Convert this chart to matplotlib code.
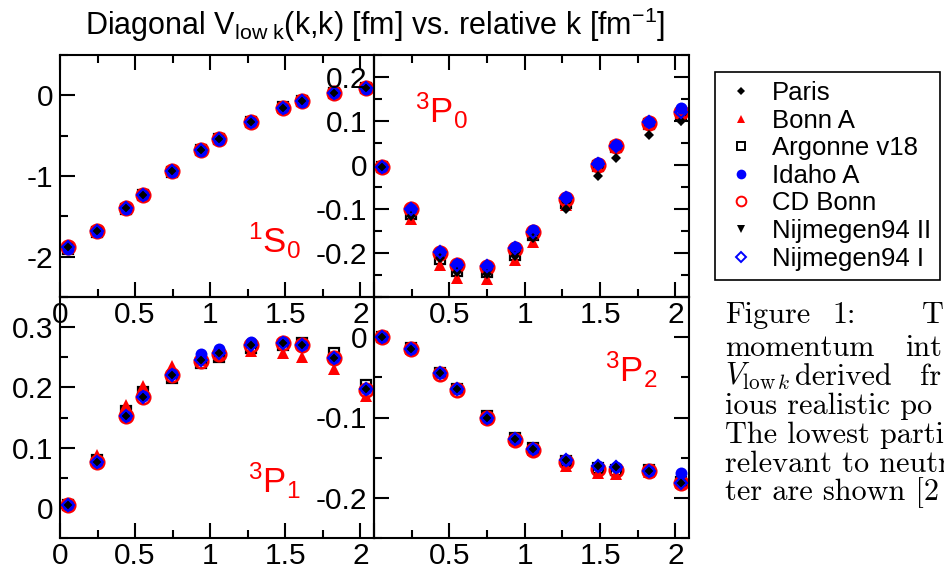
import matplotlib
matplotlib.use('Agg')
import matplotlib.pyplot as plt
from matplotlib.ticker import MultipleLocator, FuncFormatter
from matplotlib.lines import Line2D

plt.rcParams['font.family'] = ['Liberation Sans', 'DejaVu Sans']
plt.rcParams['mathtext.fontset'] = 'custom'
plt.rcParams['mathtext.rm'] = 'Liberation Sans'
plt.rcParams['mathtext.it'] = 'Liberation Sans:italic'
plt.rcParams['mathtext.bf'] = 'Liberation Sans:bold'
plt.rcParams['axes.unicode_minus'] = False

# ---------------- data ----------------
k = [0.053, 0.244, 0.437, 0.552, 0.747, 0.937, 1.055, 1.274, 1.487, 1.608, 1.822, 2.037]

series = ['Paris', 'Bonn A', 'Argonne v18', 'Idaho A', 'CD Bonn', 'Nijmegen94 II', 'Nijmegen94 I']

# 1S0
s1_paris  = [-1.875, -1.680, -1.400, -1.230, -0.940, -0.680, -0.545, -0.325, -0.155, -0.075, 0.035, 0.095]
s1_bonna  = [-1.875, -1.680, -1.400, -1.230, -0.940, -0.680, -0.545, -0.325, -0.155, -0.075, 0.035, 0.095]
s1_av18   = [-1.900, -1.690, -1.410, -1.235, -0.945, -0.680, -0.545, -0.325, -0.150, -0.070, 0.035, 0.090]
s1_idaho  = [-1.900, -1.695, -1.405, -1.235, -0.945, -0.685, -0.550, -0.330, -0.160, -0.080, 0.030, 0.080]
s1_cdbonn = [-1.880, -1.680, -1.400, -1.230, -0.940, -0.680, -0.545, -0.325, -0.155, -0.075, 0.035, 0.095]
s1_nij2   = [-1.875, -1.680, -1.400, -1.230, -0.940, -0.680, -0.545, -0.325, -0.155, -0.075, 0.035, 0.095]
s1_nij1   = [-1.875, -1.680, -1.400, -1.230, -0.940, -0.680, -0.545, -0.325, -0.155, -0.075, 0.035, 0.095]

# 3P0
p0_paris  = [-0.005, -0.115, -0.212, -0.243, -0.247, -0.206, -0.166, -0.100, -0.024, 0.015, 0.069, 0.099]
p0_bonna  = [-0.005, -0.123, -0.227, -0.257, -0.260, -0.215, -0.176, -0.092, -0.002, 0.040, 0.094, 0.118]
p0_av18   = [-0.005, -0.112, -0.214, -0.240, -0.244, -0.204, -0.160, -0.086, -0.002, 0.040, 0.093, 0.113]
p0_idaho  = [-0.004, -0.100, -0.197, -0.226, -0.229, -0.187, -0.148, -0.073, 0.004, 0.046, 0.098, 0.129]
p0_cdbonn = [-0.005, -0.101, -0.199, -0.228, -0.231, -0.190, -0.153, -0.078, 0.000, 0.043, 0.096, 0.120]
p0_nij2   = [-0.005, -0.118, -0.218, -0.248, -0.250, -0.208, -0.166, -0.095, -0.003, 0.040, 0.093, 0.101]
p0_nij1   = [-0.005, -0.100, -0.198, -0.227, -0.230, -0.189, -0.152, -0.076, 0.002, 0.044, 0.097, 0.121]

# 3P1
p1_paris  = [0.005, 0.076, 0.152, 0.184, 0.220, 0.245, 0.257, 0.271, 0.274, 0.270, 0.249, 0.197]
p1_bonna  = [0.006, 0.088, 0.171, 0.203, 0.235, 0.246, 0.256, 0.260, 0.257, 0.251, 0.231, 0.185]
p1_av18   = [0.005, 0.080, 0.160, 0.192, 0.216, 0.240, 0.250, 0.266, 0.271, 0.274, 0.257, 0.204]
p1_idaho  = [0.005, 0.076, 0.153, 0.185, 0.223, 0.255, 0.264, 0.276, 0.276, 0.271, 0.249, 0.197]
p1_cdbonn = [0.005, 0.076, 0.152, 0.184, 0.220, 0.244, 0.256, 0.270, 0.273, 0.270, 0.248, 0.196]
p1_nij2   = [0.005, 0.081, 0.160, 0.190, 0.220, 0.243, 0.254, 0.266, 0.269, 0.266, 0.246, 0.192]
p1_nij1   = [0.005, 0.076, 0.152, 0.184, 0.220, 0.245, 0.257, 0.271, 0.274, 0.270, 0.249, 0.197]

# 3P2
p2_paris  = [0.000, -0.015, -0.045, -0.065, -0.100, -0.127, -0.139, -0.153, -0.160, -0.162, -0.166, -0.181]
p2_bonna  = [0.000, -0.015, -0.045, -0.065, -0.100, -0.128, -0.140, -0.160, -0.169, -0.170, -0.168, -0.181]
p2_av18   = [0.000, -0.014, -0.044, -0.064, -0.098, -0.126, -0.138, -0.154, -0.163, -0.165, -0.165, -0.180]
p2_idaho  = [0.000, -0.015, -0.045, -0.065, -0.100, -0.127, -0.139, -0.153, -0.160, -0.162, -0.166, -0.169]
p2_cdbonn = [0.000, -0.015, -0.046, -0.066, -0.101, -0.128, -0.140, -0.155, -0.164, -0.165, -0.167, -0.181]
p2_nij2   = [0.000, -0.015, -0.045, -0.065, -0.100, -0.127, -0.139, -0.157, -0.167, -0.168, -0.167, -0.181]
p2_nij1   = [0.000, -0.015, -0.045, -0.065, -0.100, -0.127, -0.139, -0.153, -0.160, -0.162, -0.166, -0.181]

panel_data = {
    '1S0': dict(zip(series, [s1_paris, s1_bonna, s1_av18, s1_idaho, s1_cdbonn, s1_nij2, s1_nij1])),
    '3P0': dict(zip(series, [p0_paris, p0_bonna, p0_av18, p0_idaho, p0_cdbonn, p0_nij2, p0_nij1])),
    '3P1': dict(zip(series, [p1_paris, p1_bonna, p1_av18, p1_idaho, p1_cdbonn, p1_nij2, p1_nij1])),
    '3P2': dict(zip(series, [p2_paris, p2_bonna, p2_av18, p2_idaho, p2_cdbonn, p2_nij2, p2_nij1])),
}

panel_labels = {'1S0': r'$^{1}\mathrm{S}_{0}$', '3P0': r'$^{3}\mathrm{P}_{0}$',
                '3P1': r'$^{3}\mathrm{P}_{1}$', '3P2': r'$^{3}\mathrm{P}_{2}$'}

title = r'Diagonal V$_{\mathrm{low\ k}}$(k,k) [fm] vs. relative k [fm$^{\mathrm{-1}}$]'

# ---------------- styles ----------------
styles = {
    'Argonne v18':   dict(marker='s', ms=7.0, mfc='none', mec='black', mew=1.6),
    'Nijmegen94 II': dict(marker='v', ms=7.5, mfc='black', mec='black', mew=0),
    'Bonn A':        dict(marker='^', ms=8.0, mfc='red', mec='red', mew=0),
    'CD Bonn':       dict(marker='o', ms=9.8, mfc='none', mec='red', mew=1.8),
    'Idaho A':       dict(marker='o', ms=8.6, mfc='blue', mec='blue', mew=0),
    'Paris':         dict(marker='D', ms=4.6, mfc='black', mec='black', mew=0),
    'Nijmegen94 I':  dict(marker='D', ms=6.0, mfc='none', mec='blue', mew=1.6),
}
draw_order = ['Argonne v18', 'Nijmegen94 II', 'Bonn A', 'CD Bonn', 'Idaho A', 'Paris', 'Nijmegen94 I']
legend_sizes = {'Paris': 4.2, 'Bonn A': 6.0, 'Argonne v18': 5.5, 'Idaho A': 7.0,
                'CD Bonn': 7.0, 'Nijmegen94 II': 6.0, 'Nijmegen94 I': 5.2}

W, H = 944, 572
fig = plt.figure(figsize=(W / 100, H / 100), dpi=100)
fig.patch.set_facecolor('white')

def add_ax(x0, y0, x1, y1):
    ax = fig.add_axes([x0 / W, 1 - y1 / H, (x1 - x0) / W, (y1 - y0) / H])
    ax.patch.set_alpha(0)
    return ax

XL, XM, XR = 60, 374, 689
YT, YM, YB = 55, 297, 538

layout = {
    '1S0': dict(box=(XL, YT, XM, YM), ylim=(-2.5, 0.5), major=1.0, minor=0.5, left=True, top=True, zero_x=True),
    '3P0': dict(box=(XM, YT, XR, YM), ylim=(-0.3, 0.25), major=0.1, minor=0.05, left=False, top=True, zero_x=False),
    '3P1': dict(box=(XL, YM, XM, YB), ylim=(-0.05, 0.35), major=0.1, minor=0.05, left=True, top=False, zero_x=True),
    '3P2': dict(box=(XM, YM, XR, YB), ylim=(-0.25, 0.05), major=0.1, minor=0.05, left=False, top=False, zero_x=False),
}
label_pos = {'1S0': (248, 253), '3P0': (415, 123), '3P1': (248, 493), '3P2': (605, 382)}

def make_fmt(lo, hi, hide_zero):
    def f(v, pos):
        v = round(v, 6)
        if v <= lo + 1e-6 or v >= hi - 1e-6:
            return ''
        if v == 0:
            return '' if hide_zero else '0'
        return '%g' % v
    return f

def make_xfmt(hide_zero):
    def f(v, pos):
        v = round(v, 6)
        if v == 0:
            return '' if hide_zero else '0'
        return '%g' % v
    return f

for name in ['1S0', '3P0', '3P1', '3P2']:
    L = layout[name]
    ax = add_ax(*L['box'])
    d = panel_data[name]
    for s in draw_order:
        ax.plot(k, d[s], linestyle='none', clip_on=False, **styles[s])
    ax.set_xlim(0, 2.09)
    ax.set_ylim(*L['ylim'])
    ax.xaxis.set_major_locator(MultipleLocator(0.5))
    ax.xaxis.set_minor_locator(MultipleLocator(0.25))
    ax.yaxis.set_major_locator(MultipleLocator(L['major']))
    ax.yaxis.set_minor_locator(MultipleLocator(L['minor']))
    ax.xaxis.set_major_formatter(FuncFormatter(make_xfmt(not L['zero_x'])))
    ax.yaxis.set_major_formatter(FuncFormatter(make_fmt(L['ylim'][0], L['ylim'][1], False)))
    for sp in ax.spines.values():
        sp.set_linewidth(1.5)
    ax.tick_params(which='both', direction='in', width=1.5, labelsize=21.5,
                   top=L['top'], bottom=True, left=True, right=not L['left'])
    ax.tick_params(axis='y', which='both', pad=5)
    ax.tick_params(axis='x', which='both', pad=3)
    ax.tick_params(which='major', length=11)
    ax.tick_params(which='minor', length=5.5)
    x0, y0, x1, y1 = L['box']
    lx, ly = label_pos[name]
    ax.text((lx - x0) / (x1 - x0), (y1 - ly) / (y1 - y0), panel_labels[name],
            transform=ax.transAxes, color='red', fontsize=25, ha='left', va='baseline')

# title
fig.text(375 / W, 1 - 35 / H, title, ha='center', va='baseline', fontsize=22)

# legend
handles = []
for s in series:
    st = dict(styles[s])
    st['ms'] = legend_sizes[s]
    if st['mew'] > 0:
        st['mew'] = 1.4
    handles.append(Line2D([], [], linestyle='none', **st))
leg = fig.legend(handles, series, loc='upper left', bbox_to_anchor=(715 / W, 1 - 72 / H),
                 bbox_transform=fig.transFigure, borderaxespad=0, fontsize=18.5,
                 frameon=True, fancybox=False, edgecolor='black', framealpha=1,
                 borderpad=0.35, labelspacing=0.14, handlelength=1.3, handletextpad=0.55,
                 handleheight=0.7)
leg.get_frame().set_linewidth(1.2)

# caption fragment of the page (only the part visible inside the picture)
cap = dict(family='cmr10', fontsize=21.8, ha='left', va='baseline', color='black')
fig.text(725 / W, 1 - 323 / H, 'Figure', **cap)
fig.text(832 / W, 1 - 323 / H, '1:', **cap)
fig.text(922 / W, 1 - 323 / H, 'T', **cap)
fig.text(725 / W, 1 - 356 / H, 'momentum', **cap)
fig.text(905 / W, 1 - 356 / H, 'int', **cap)
fig.text(725 / W, 1 - 385 / H, r'$V_{\mathrm{low}\,k}$', math_fontfamily='cm', **cap)
fig.text(795 / W, 1 - 385 / H, 'derived', **cap)
fig.text(920 / W, 1 - 385 / H, 'fr', **cap)
fig.text(725 / W, 1 - 414 / H, 'ious realistic po', **cap)
fig.text(725 / W, 1 - 443 / H, 'The lowest parti', **cap)
fig.text(725 / W, 1 - 472 / H, 'relevant to neutr', **cap)
fig.text(725 / W, 1 - 500 / H, 'ter are shown [2', **cap)

fig.savefig('out.png', dpi=100)
